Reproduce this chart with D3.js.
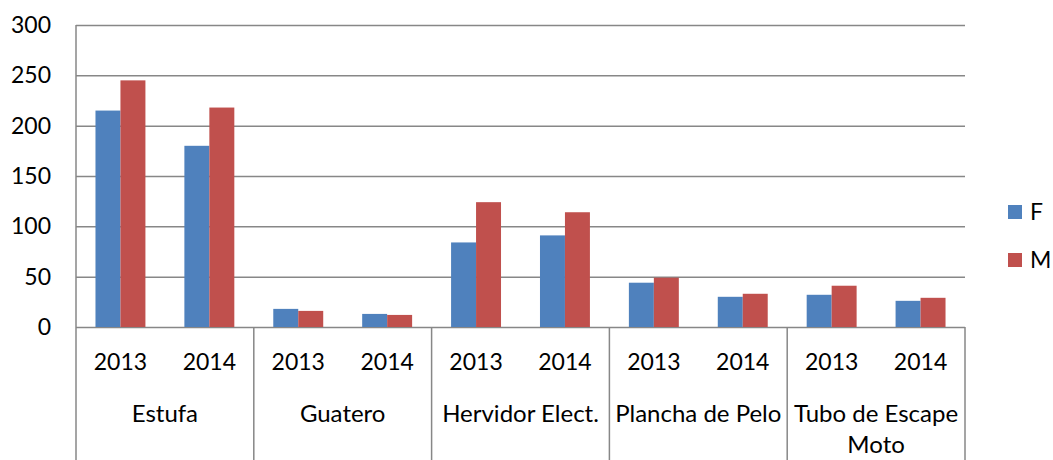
<!DOCTYPE html>
<html lang="es">
<head>
    <meta charset="UTF-8">
    <title>Chart</title>
    <script src="https://cdn.jsdelivr.net/npm/d3@7"></script>
    <style>
        body { margin: 0; background: #fff; }
        svg { display: block; font-family: Lato, "Open Sans", sans-serif; }
    </style>
</head>
<body>
<div id="chart-space"></div>
<script>
    // data
    var categories = [["Estufa"], ["Guatero"], ["Hervidor Elect."], ["Plancha de Pelo"], ["Tubo de Escape", "Moto"]];
    var years = ["2013", "2014"];
    var series = ["F", "M"];
    var valuesF = [[215, 180], [18, 13], [84, 91], [44, 30], [32, 26]];
    var valuesM = [[245, 218], [16, 12], [124, 114], [49, 33], [41, 29]];
    var yTicks = [0, 50, 100, 150, 200, 250, 300];

    var width = 1053;
    var height = 460;
    var margin = {top: 25, right: 88, bottom: 133, left: 76};
    var colors = {F: "#4F81BD", M: "#C0504D"};
    var gridColor = "#878787";

    var svg = d3.select("#chart-space")
                .append("svg")
                .attr("width", width)
                .attr("height", height);

    var catNames = categories.map(function(c){ return c.join(" "); });

    var x0 = d3.scaleBand()
               .domain(catNames)
               .range([margin.left, width - margin.right]);

    var x1 = d3.scaleBand()
               .domain(years)
               .range([0, x0.bandwidth()]);

    var x2 = d3.scaleBand()
               .domain(series)
               .range([0, x1.bandwidth()])
               .paddingOuter(0.78);

    var y = d3.scaleLinear()
              .domain([0, 300])
              .range([height - margin.bottom, margin.top]);

    // gridlines + y labels
    var yAxis = svg.append("g")
                   .attr("transform", "translate(" + margin.left + ",0)")
                   .call(d3.axisLeft(y)
                           .tickValues(yTicks)
                           .tickSize(-(width - margin.left - margin.right))
                           .tickPadding(25));
    yAxis.select(".domain").remove();
    yAxis.selectAll("line").attr("stroke", gridColor).attr("stroke-width", 1.5);
    yAxis.selectAll("text")
         .attr("font-size", 23)
         .attr("fill", "#000")
         .attr("font-family", "Lato, sans-serif");

    // flatten values into bar records
    var bars = [];
    catNames.forEach(function(c, i){
        years.forEach(function(yr, j){
            bars.push({cat: c, year: yr, s: "F", v: valuesF[i][j]});
            bars.push({cat: c, year: yr, s: "M", v: valuesM[i][j]});
        });
    });

    svg.selectAll("rect.bar")
       .data(bars)
       .join("rect")
       .attr("class", "bar")
       .attr("x", function(d){ return x0(d.cat) + x1(d.year) + x2(d.s); })
       .attr("y", function(d){ return y(d.v); })
       .attr("width", x2.bandwidth())
       .attr("height", function(d){ return y(0) - y(d.v); })
       .attr("fill", function(d){ return colors[d.s]; });

    // category axis: left line, group separators
    var bounds = catNames.map(function(c){ return x0(c); }).concat([x0.range()[1]]);
    svg.append("g")
       .selectAll("line")
       .data(bounds)
       .join("line")
       .attr("x1", function(d){ return d; })
       .attr("x2", function(d){ return d; })
       .attr("y1", function(d, i){ return i === 0 ? margin.top : y(0); })
       .attr("y2", height)
       .attr("stroke", gridColor)
       .attr("stroke-width", 1.5);

    // year labels
    var yearLabels = [];
    catNames.forEach(function(c){
        years.forEach(function(yr){ yearLabels.push({cat: c, year: yr}); });
    });
    svg.append("g")
       .selectAll("text")
       .data(yearLabels)
       .join("text")
       .attr("x", function(d){ return x0(d.cat) + x1(d.year) + x1.bandwidth() / 2; })
       .attr("y", y(0) + 43)
       .attr("text-anchor", "middle")
       .attr("font-size", 23)
       .text(function(d){ return d.year; });

    // category labels (possibly two lines)
    var catText = svg.append("g")
                     .selectAll("text")
                     .data(categories)
                     .join("text")
                     .attr("text-anchor", "middle")
                     .attr("font-size", 24)
                     .attr("y", y(0) + 95);
    catText.selectAll("tspan")
           .data(function(d, i){ return d.map(function(t){ return {t: t, c: catNames[i]}; }); })
           .join("tspan")
           .attr("x", function(d){ return x0(d.c) + x0.bandwidth() / 2; })
           .attr("dy", function(d, i){ return i === 0 ? 0 : 31; })
           .text(function(d){ return d.t; });

    // legend
    var legend = svg.append("g")
                    .selectAll("g")
                    .data(series)
                    .join("g")
                    .attr("transform", function(d, i){ return "translate(1008," + (205 + i * 48) + ")"; });
    legend.append("rect")
          .attr("width", 14)
          .attr("height", 14)
          .attr("fill", function(d){ return colors[d]; });
    legend.append("text")
          .attr("x", 22)
          .attr("y", 15)
          .attr("font-size", 23)
          .text(function(d){ return d; });
</script>
</body>
</html>
